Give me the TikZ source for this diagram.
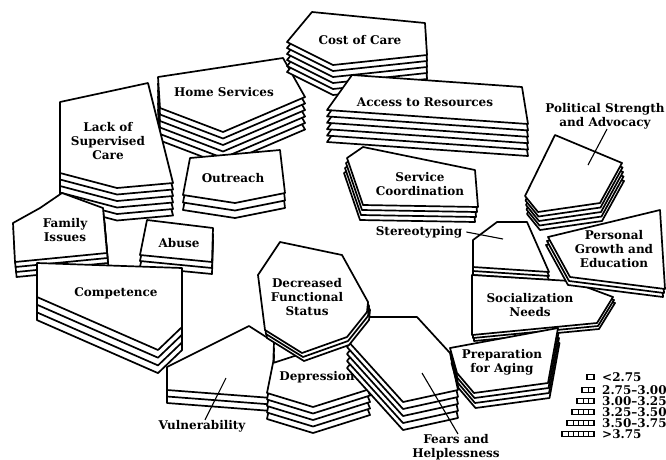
\documentclass[tikz,border=0pt]{standalone}
\usepackage{fontspec}
\setmainfont{DejaVu Serif}
% stacked slab: #1 extra layers, #2/#3 offset per layer, #4 outline of the top slab
\newcommand\pile[4]{%
  \foreach \k in {#1,...,1}{\draw[slab,shift={(\k*#2,\k*#3)}] #4 -- cycle;}
  \draw[slab] #4 -- cycle;}
\begin{document}
\begin{tikzpicture}[x=1pt,y=-1pt,
  slab/.style={draw=black,fill=white,line width=1.7pt,line join=round},
  lbl/.style={font=\bfseries\fontsize{12}{14}\selectfont,align=center,inner sep=0pt},
  lead/.style={line width=1.1pt},
  legbox/.style={draw=black,fill=white,line width=1.1pt}]
\useasboundingbox (0,0) rectangle (666,459);
\fill[white] (0,0) rectangle (666,459);

% upper group
\pile{5}{0}{6.5}{(158,77) -- (283,58) -- (305,97) -- (223,132) -- (160,108)}
\pile{5}{0}{6.5}{(60,102) -- (148,83) -- (173,183) -- (117,188) -- (60,173)}
\pile{5}{0}{6}{(312,12) -- (425,23) -- (427,55) -- (333,65) -- (287,42)}
\pile{5}{0}{6.4}{(327,110) -- (352,75) -- (522,87) -- (528,124)}
\pile{3}{-1}{5}{(347,158) -- (363,147) -- (475,170) -- (478,207) -- (363,205)}
\pile{2}{0}{7.5}{(190,158) -- (280,150) -- (285,193) -- (235,203) -- (183,195)}

% left group
\pile{3}{0.5}{5}{(13,223) -- (40,208) -- (62,193) -- (103,208) -- (107,253) -- (15,262)}
\pile{2}{0}{6}{(147,220) -- (213,228) -- (212,262) -- (140,255)}
\pile{3}{0}{7.7}{(37,263) -- (182,268) -- (182,327) -- (158,350) -- (37,297)}

% right group
\pile{4}{0.5}{4.5}{(555,135) -- (622,163) -- (600,203) -- (538,212) -- (525,196)}
\pile{2}{0}{4}{(473,240) -- (497,222) -- (527,222) -- (549,272) -- (473,267)}
\pile{2}{1}{3}{(472,275) -- (570,281) -- (613,297) -- (597,323) -- (472,335)}
\pile{2}{-1}{4}{(548,237) -- (660,210) -- (665,289) -- (570,277)}

% lower group
\pile{2}{0}{6.5}{(167,367) -- (249,326) -- (274,342) -- (272,398) -- (167,390)}
\pile{4}{0}{6.5}{(273,363) -- (350,338) -- (370,389) -- (313,407) -- (267,393)}
\pile{4}{0}{7}{(347,340) -- (365,317) -- (417,317) -- (450,353) -- (458,390) -- (403,402)}
\pile{3}{0.5}{5}{(450,348) -- (558,328) -- (548,383) -- (474,393) -- (457,373)}
\pile{2}{1}{4}{(280,242) -- (342,255) -- (368,302) -- (367,312) -- (347,337) -- (302,353) -- (265,330) -- (258,275)}

% labels
\node[lbl] (cost) at (360,40) {Cost of Care};
\node[lbl] (home) at (224,92) {Home Services};
\node[lbl] (access) at (425,102) {Access to Resources};
\node[lbl] (lack) at (108,141) {Lack of\\Supervised\\Care};
\node[lbl] (outreach) at (233,178) {Outreach};
\node[lbl] (service) at (420,184) {Service\\Coordination};
\node[lbl] (political) at (605,116) {Political Strength\\and Advocacy};
\node[lbl] (family) at (65,230) {Family\\Issues};
\node[lbl] (abuse) at (179,243) {Abuse};
\node[lbl] (competence) at (116,293) {Competence};
\node[lbl] (stereo) at (419,232) {Stereotyping};
\node[lbl] (personal) at (614,249) {Personal\\Growth and\\Education};
\node[lbl] (social) at (530,305) {Socialization\\Needs};
\node[lbl] (decreased) at (307,297) {Decreased\\Functional\\Status};
\node[lbl] (prep) at (502,362) {Preparation\\for Aging};
\node[lbl] (depression) at (317,377) {Depression};
\node[lbl] (vuln) at (202,426) {Vulnerability};
\node[lbl] (fears) at (456,447) {Fears and\\Helplessness};

% leader lines
\coordinate (politicalTip) at (588,165);
\coordinate (stereoTip) at (503,239);
\coordinate (vulnTip) at (226,378);
\coordinate (fearsTip) at (422,373);
\draw[lead] ([xshift=2pt]political.south) -- (politicalTip);
\draw[lead] ([xshift=4pt]stereo.east) -- (stereoTip);
\draw[lead] ([xshift=3pt]vuln.north) -- (vulnTip);
\draw[lead] ([xshift=2pt]fears.north) -- (fearsTip);

% legend
\foreach \n/\yy/\txt in {1/377/{<2.75},2/390/{2.75–3.00},3/401/{3.00–3.25},4/412/{3.25–3.50},5/423/{3.50–3.75},6/434/{>3.75}}{
  \draw[legbox] ({594-5*\n-2},\yy-2.2) rectangle (594,\yy+2.2);
  \ifnum\n>1
    \foreach \c in {2,...,\n}{\draw[line width=0.9pt] ({594-5*(\c-1)-1},\yy-2.2) -- ++(0,4.4);}
  \fi
  \node[lbl,anchor=west] (leg\n) at (602,\yy) {\txt};
}
\end{tikzpicture}
\end{document}
